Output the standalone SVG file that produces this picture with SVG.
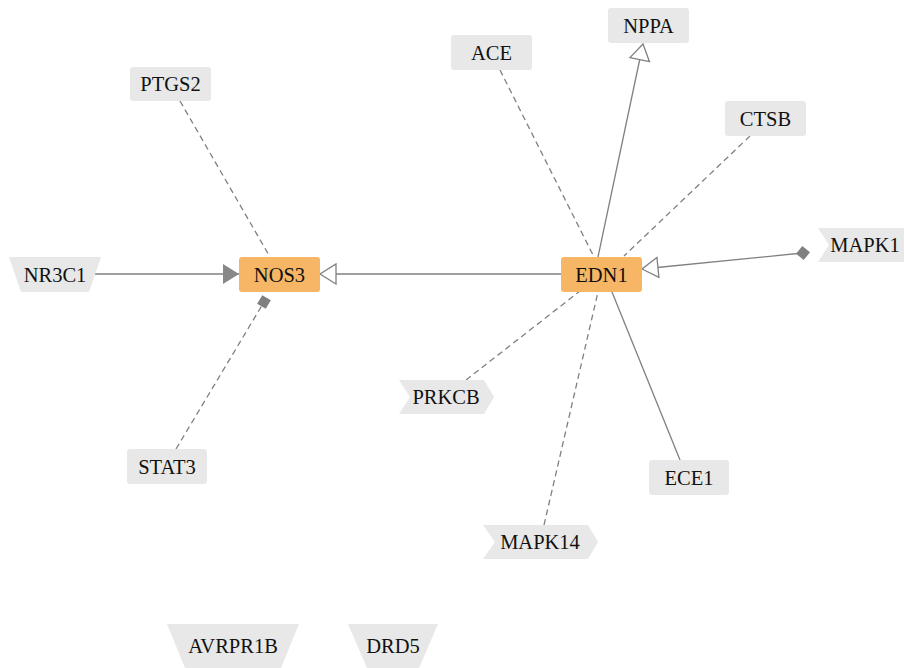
<svg xmlns="http://www.w3.org/2000/svg" width="904" height="668" viewBox="0 0 904 668" font-family="'Liberation Serif', 'Times New Roman', Times, serif">
<style>
.e{fill:none;stroke:#808080;stroke-width:1.3}
.d{stroke-dasharray:6,4}
.n{fill:#e8e8e8}
.o{fill:#f7b665}
.t{font-family:'Liberation Serif','Times New Roman',Times,serif;font-size:20.5px;fill:#111;text-anchor:middle}
</style>
<defs>
<marker id="aOpen" markerUnits="userSpaceOnUse" markerWidth="20" markerHeight="24" refX="17" refY="11" orient="auto" overflow="visible">
<path d="M1,1 L17,11 L1,21 Z" fill="#fff" stroke="#808080" stroke-width="1.3"/>
</marker>
<marker id="aFill" markerUnits="userSpaceOnUse" markerWidth="20" markerHeight="24" refX="17" refY="11" orient="auto" overflow="visible">
<path d="M1,1 L17,11 L1,21 Z" fill="#888"/>
</marker>
<marker id="dia" markerUnits="userSpaceOnUse" markerWidth="16" markerHeight="16" refX="7" refY="7" orient="auto" overflow="visible">
<path d="M0,7 L7,0 L14,7 L7,14 Z" fill="#808080"/>
</marker>
<marker id="sq" markerUnits="userSpaceOnUse" markerWidth="12" markerHeight="12" refX="5" refY="5" orient="auto" overflow="visible">
<path d="M0,0 H10 V10 H0 Z" fill="#808080"/>
</marker>
</defs>
<g id="edges">
<line class="e" x1="88" y1="274" x2="239" y2="274" marker-end="url(#aFill)"/>
<line class="e" x1="561" y1="274" x2="320" y2="274" marker-end="url(#aOpen)"/>
<line class="e d" x1="180" y1="101" x2="270" y2="257"/>
<line class="e d" x1="176" y1="449" x2="264" y2="302" marker-end="url(#sq)"/>
<line class="e d" x1="500" y1="70" x2="594" y2="257"/>
<line class="e" x1="598" y1="257" x2="643" y2="44" marker-end="url(#aOpen)"/>
<line class="e d" x1="750" y1="136" x2="624" y2="256"/>
<line class="e" x1="803" y1="253" x2="642" y2="269" marker-start="url(#dia)" marker-end="url(#aOpen)"/>
<line class="e d" x1="466" y1="380" x2="580" y2="291"/>
<line class="e d" x1="544" y1="525" x2="598" y2="292"/>
<line class="e" x1="680" y1="460" x2="612" y2="292"/>
</g>
<g id="NPPA"><rect class="n" x="608" y="8" width="81" height="35" rx="3"/><text class="t" x="648.5" y="32.5">NPPA</text></g>
<g id="ACE"><rect class="n" x="451" y="35" width="81" height="35" rx="3"/><text class="t" x="491.5" y="59.5">ACE</text></g>
<g id="PTGS2"><rect class="n" x="130" y="67" width="81" height="34" rx="3"/><text class="t" x="170.5" y="91">PTGS2</text></g>
<g id="CTSB"><rect class="n" x="725" y="101" width="81" height="35" rx="3"/><text class="t" x="765.5" y="125.5">CTSB</text></g>
<g id="NOS3"><rect class="o" x="239" y="257" width="81" height="35" rx="3"/><text class="t" x="279.5" y="281.5">NOS3</text></g>
<g id="EDN1"><rect class="o" x="561" y="257" width="81" height="35" rx="3"/><text class="t" x="601.5" y="281.5">EDN1</text></g>
<g id="NR3C1"><polygon class="n" points="9,257 101,257 89,292 21,292"/><text class="t" x="55" y="281.5">NR3C1</text></g>
<g id="MAPK1"><polygon class="n" points="818,228 910,228 920,245 910,262 818,262 829,245"/><text class="t" x="865" y="252">MAPK1</text></g>
<g id="PRKCB"><polygon class="n" points="399,380 484,380 494,397 484,414 399,414 410,397"/><text class="t" x="446" y="404">PRKCB</text></g>
<g id="STAT3"><rect class="n" x="127" y="449" width="80" height="35" rx="3"/><text class="t" x="167" y="473.5">STAT3</text></g>
<g id="ECE1"><rect class="n" x="649" y="460" width="80" height="35" rx="3"/><text class="t" x="689" y="484.5">ECE1</text></g>
<g id="MAPK14"><polygon class="n" points="483,525 588,525 598,542 588,559 483,559 495,542"/><text class="t" x="540" y="549">MAPK14</text></g>
<g id="AVRPR1B"><polygon class="n" points="167,624 299,624 281,668 185,668"/><text class="t" x="233" y="653">AVRPR1B</text></g>
<g id="DRD5"><polygon class="n" points="348,624 438,624 419,668 367,668"/><text class="t" x="393" y="653">DRD5</text></g>
</svg>
